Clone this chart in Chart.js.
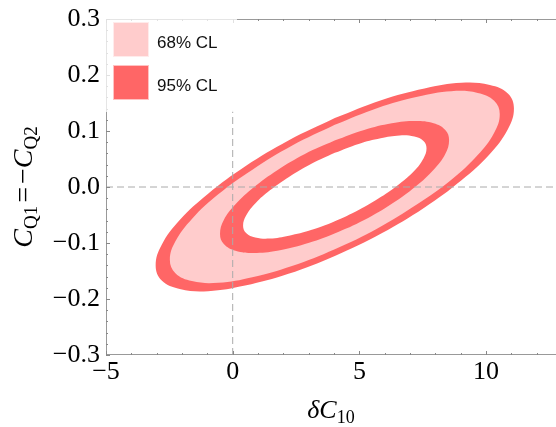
<!DOCTYPE html>
<html><head><meta charset="utf-8">
<script src="https://cdn.jsdelivr.net/npm/chart.js@4"></script>
<style>html,body{margin:0;padding:0;background:#fff;overflow:hidden}</style>
</head><body>
<canvas id="c" width="556" height="427"></canvas>
<script>
// ---- data ----
const legendLabels = ['68% CL', '95% CL'];
const xTickValues = [-5, 0, 5, 10];
const yTickValues = [-0.3, -0.2, -0.1, 0.0, 0.1, 0.2, 0.3];
const xMinorTicks = [-4,-3,-2,-1,1,2,3,4,6,7,8,9,11,12];
const yMinorTicks = [-0.28,-0.26,-0.24,-0.22,-0.18,-0.16,-0.14,-0.12,-0.08,-0.06,-0.04,-0.02,
                     0.02,0.04,0.06,0.08,0.12,0.14,0.16,0.18,0.22,0.24,0.26,0.28];
const xRange = [-5, 12.76];
const yRange = [-0.3, 0.3];

// outer edge of the 95% region
const outer95X = [4.03,2.20,0.50,-0.97,-2.09,-2.80,-3.04,-2.80,-2.09,-0.97,0.49,2.20,4.03,5.86,7.56,9.03,10.15,10.86,11.10,10.86,10.15,9.03,7.57,5.86,4.03];
const outer95Y = [0.123,0.083,0.037,-0.012,-0.059,-0.103,-0.140,-0.167,-0.182,-0.186,-0.176,-0.155,-0.123,-0.083,-0.037,0.012,0.059,0.103,0.140,0.167,0.182,0.186,0.176,0.155,0.123];
// outer edge of the 68% region
const outer68X = [4.03,2.35,0.78,-0.57,-1.61,-2.26,-2.48,-2.26,-1.61,-0.57,0.77,2.34,4.03,5.71,7.28,8.63,9.67,10.32,10.54,10.32,9.67,8.63,7.29,5.72,4.03];
const outer68Y = [0.111,0.074,0.031,-0.013,-0.057,-0.097,-0.130,-0.154,-0.168,-0.171,-0.161,-0.141,-0.111,-0.074,-0.031,0.013,0.057,0.097,0.130,0.154,0.168,0.171,0.161,0.141,0.111];
// inner edge of the 68% region
const inner68X = [4.02,2.85,1.76,0.82,0.11,-0.35,-0.50,-0.35,0.11,0.82,1.76,2.85,4.02,5.19,6.28,7.22,7.93,8.39,8.54,8.39,7.93,7.22,6.28,5.19,4.02];
const inner68Y = [0.083,0.059,0.030,-0.001,-0.031,-0.059,-0.084,-0.102,-0.114,-0.118,-0.114,-0.102,-0.083,-0.059,-0.030,0.001,0.031,0.059,0.084,0.102,0.114,0.118,0.114,0.102,0.083];
// inner edge of the 95% region
const inner95X = [4.03,3.09,2.22,1.47,0.90,0.53,0.41,0.53,0.89,1.47,2.22,3.09,4.03,4.97,5.84,6.59,7.17,7.53,7.65,7.53,7.17,6.59,5.84,4.97,4.03];
const inner95Y = [0.061,0.041,0.018,-0.006,-0.029,-0.051,-0.069,-0.082,-0.090,-0.092,-0.087,-0.077,-0.061,-0.041,-0.018,0.006,0.029,0.051,0.069,0.082,0.090,0.092,0.087,0.077,0.061];

// reference dashed lines
const hLineX = [-5, 12.76], hLineY = [0, 0];
const vLineX = [0, 0], vLineY = [-0.3, 0.136];

// ---- styling ----
const PINK = '#ffcccc', RED = '#ff6666';
const zip = (xs, ys) => xs.map((x, i) => ({x, y: ys[i]}));
const fmt = v => (v < 0 ? '\u2212' : '') + Math.abs(v);
const fmtY = v => (v < 0 ? '\u2212' : '') + Math.abs(v).toFixed(1);

function region(data, color, order) {
  return {data, order, backgroundColor: color, borderColor: color, borderWidth: 0,
          fill: 'shape', pointRadius: 0, tension: 0.4};
}
function dash(data) {
  return {data, order: 0, borderColor: '#aaaaaa', borderWidth: 1, borderDash: [7, 4],
          fill: false, pointRadius: 0, tension: 0};
}

function rich(ctx, segs, cx, cy, rot) {
  ctx.save(); ctx.translate(cx, cy); ctx.rotate(rot);
  let w = 0;
  segs.forEach(s => { ctx.font = s.f; s.w = (s.pre || 0) + ctx.measureText(s.t).width + (s.post || 0); w += s.w; });
  let x = -w / 2;
  ctx.textAlign = 'left'; ctx.textBaseline = 'alphabetic'; ctx.fillStyle = '#000';
  segs.forEach(s => { ctx.font = s.f; ctx.fillText(s.t, x + (s.pre || 0), s.dy || 0); x += s.w; });
  ctx.restore();
}

const SERIF = '"Liberation Serif", "DejaVu Serif", serif';
const decor = {
  id: 'decor',
  afterDraw(chart) {
    const {ctx, chartArea: a, scales: {x, y}} = chart;
    ctx.save();
    // frame (left, top, bottom)
    ctx.strokeStyle = '#999999'; ctx.lineWidth = 1;
    ctx.beginPath();
    ctx.moveTo(a.right, a.top + 0.5); ctx.lineTo(a.left + 0.5, a.top + 0.5);
    ctx.lineTo(a.left + 0.5, a.bottom - 0.5); ctx.lineTo(a.right, a.bottom - 0.5);
    ctx.stroke();
    // inward ticks
    ctx.strokeStyle = '#888888';
    ctx.beginPath();
    const tx = (v, len) => { const p = Math.round(x.getPixelForValue(v)) + 0.5;
      ctx.moveTo(p, a.bottom); ctx.lineTo(p, a.bottom - len);
      ctx.moveTo(p, a.top); ctx.lineTo(p, a.top + len); };
    const ty = (v, len) => { const p = Math.round(y.getPixelForValue(v)) + 0.5;
      ctx.moveTo(a.left, p); ctx.lineTo(a.left + len, p); };
    xTickValues.forEach(v => tx(v, 4)); xMinorTicks.forEach(v => tx(v, 2));
    yTickValues.forEach(v => ty(v, 4)); yMinorTicks.forEach(v => ty(v, 2));
    ctx.stroke();
    // axis titles
    const M = 'italic 26px ' + SERIF, S = '18px ' + SERIF;
    rich(ctx, [{t: '\u03B4C', f: M}, {t: '10', f: S, dy: 5}], (a.left + a.right) / 2, 418, 0);
    const M2 = 'italic 28px ' + SERIF, R2 = '28px ' + SERIF, S2 = '19px ' + SERIF;
    rich(ctx, [{t: 'C', f: M2}, {t: 'Q1', f: S2, dy: 5}, {t: '=', f: R2, pre: 3, post: 3},
               {t: '\u2212', f: R2}, {t: 'C', f: M2}, {t: 'Q2', f: S2, dy: 5}],
         32, (a.top + a.bottom) / 2, -Math.PI / 2);
    // legend box
    ctx.fillStyle = 'rgba(255,255,255,0.75)';
    ctx.fillRect(a.left, a.top, 131, 93);
    const sw = [[PINK, 22], [RED, 65]];
    sw.forEach(([c, top], i) => {
      ctx.fillStyle = c; ctx.fillRect(113, top, 36, 35);
      ctx.strokeStyle = 'rgba(255,255,255,0.6)'; ctx.strokeRect(113.5, top + 0.5, 35, 34);
      ctx.fillStyle = '#111'; ctx.font = '17px "Liberation Sans", Arial, sans-serif';
      ctx.textAlign = 'left'; ctx.textBaseline = 'alphabetic';
      ctx.fillText(legendLabels[i], 157, top + 25.5);
    });
    ctx.restore();
  }
};

new Chart(document.getElementById('c'), {
  type: 'line',
  data: {
    datasets: [
      region(zip(outer95X, outer95Y), RED, 10),
      region(zip(outer68X, outer68Y), PINK, 9),
      region(zip(inner68X, inner68Y), RED, 8),
      region(zip(inner95X, inner95Y), '#ffffff', 7),
      dash(zip(hLineX, hLineY)),
      dash(zip(vLineX, vLineY))
    ]
  },
  options: {
    responsive: false, animation: false,
    layout: {padding: {top: 15, right: 0, left: 0, bottom: 0}},
    plugins: {legend: {display: false}, tooltip: {enabled: false}},
    scales: {
      x: {type: 'linear', min: xRange[0], max: xRange[1],
          afterBuildTicks: s => { s.ticks = xTickValues.map(v => ({value: v})); },
          afterFit: s => { s.height = 72; },
          grid: {display: false, drawTicks: false}, border: {display: false},
          ticks: {color: '#000', padding: 4, font: {family: SERIF, size: 26, lineHeight: 1}, callback: fmt, maxRotation: 0}},
      y: {type: 'linear', min: yRange[0], max: yRange[1],
          afterBuildTicks: s => { s.ticks = yTickValues.map(v => ({value: v})); },
          afterFit: s => { s.width = 106; },
          grid: {display: false, drawTicks: false}, border: {display: false},
          ticks: {color: '#000', padding: 6, font: {family: SERIF, size: 26, lineHeight: 1}, callback: fmtY}}
    }
  },
  plugins: [decor]
});
</script></body></html>
